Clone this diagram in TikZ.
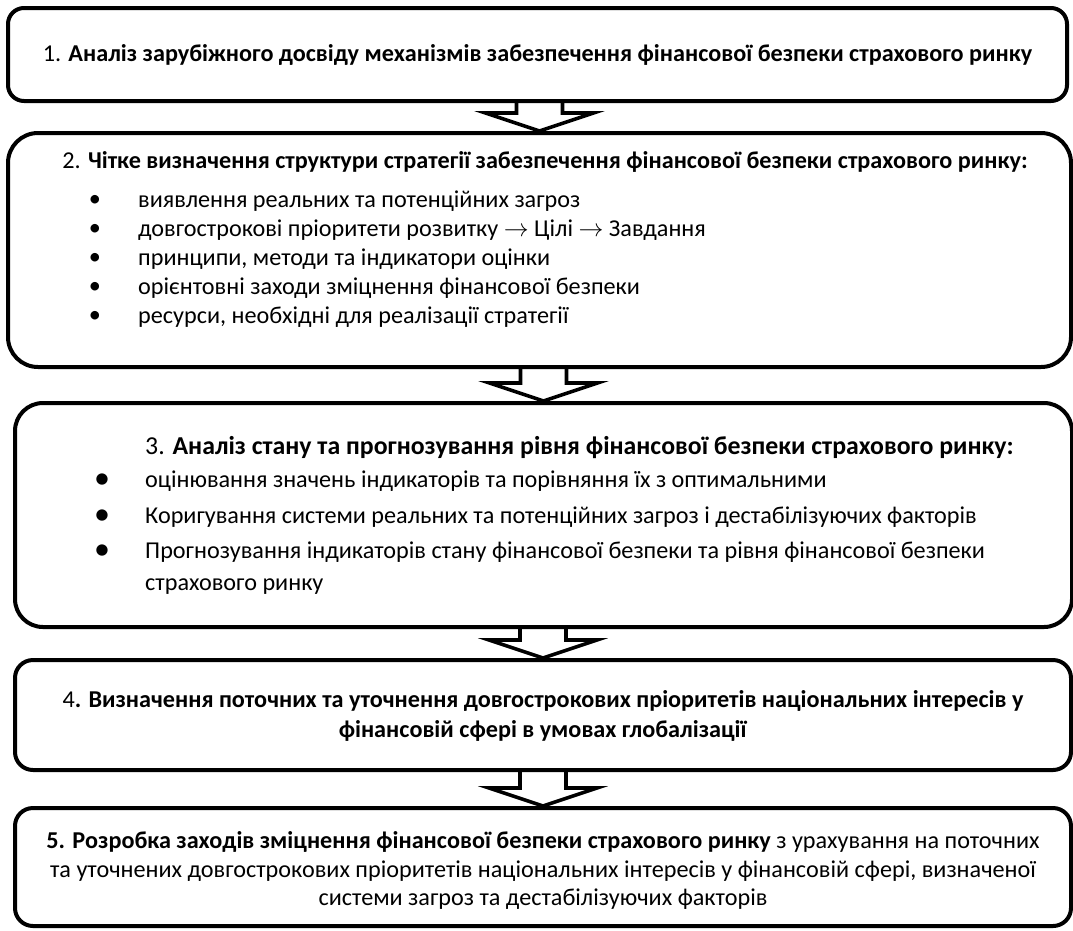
\documentclass[tikz,border=0pt]{standalone}
\usepackage{fontspec}
\setmainfont{Carlito}
\usetikzlibrary{calc,positioning}
\tikzset{
    stage-box/.style = {draw=black, line width=4pt, rectangle, rounded corners=#1, inner sep=0pt},
    stage-box/.default = 16pt,
    stage-text/.style = {inner sep=0pt, font=\fontsize{24.2}{29}\selectfont},
    item-text/.style = {stage-text, anchor=west},
    item-dot/.style = {inner sep=0pt, font=\fontsize{24.2}{29}\selectfont},
    big-dot/.style = {inner sep=0pt, font=\fontsize{32}{32}\selectfont},
    block-arrow/.style = {draw=black, line width=3.6pt, line join=miter},
}
% hollow arrow from the bottom of one box to the top of the next
\newcommand{\stagearrow}[2]{%
  \draw[block-arrow] ($(#1.south -| #2.north)+(-23,0)$) -- ($(#2.north)+(-23,-18)$)
    -- ($(#2.north)+(-54,-18)$) -- (#2.north) -- ($(#2.north)+(54,-18)$)
    -- ($(#2.north)+(23,-18)$) -- ($(#1.south -| #2.north)+(23,0)$);
}

\begin{document}
\begin{tikzpicture}[x=1pt,y=-1pt]
\useasboundingbox (0,0) rectangle (1073,930);

% boxes
\node[stage-box=16pt, minimum width=1059pt, minimum height=93pt] (box1) at (537.5,54.5) {};
\node[stage-box=30pt, minimum width=1063pt, minimum height=234pt] (box2) at (539.5,250) {};
\node[stage-box=28pt, minimum width=1057pt, minimum height=224pt] (box3) at (543.5,515) {};
\node[stage-box=18pt, minimum width=1056pt, minimum height=110pt] (box4) at (543,715) {};
\node[stage-box=18pt, minimum width=1056pt, minimum height=118pt] (box5) at (543,867) {};

% arrows
\stagearrow{box1}{box2}
\stagearrow{box2}{box3}
\stagearrow{box3}{box4}
\stagearrow{box4}{box5}

% stage 1
\node[stage-text] (t1) at (box1) {1. \textbf{Аналіз зарубіжного досвіду механізмів забезпечення фінансової безпеки страхового ринку}};

% stage 2
\node[stage-text] (t2) at (545,162) {2. \textbf{Чітке визначення структури стратегії забезпечення фінансової безпеки страхового ринку:}};
\foreach \txt [count=\k] in {{виявлення реальних та потенційних загроз},
    {довгострокові пріоритети розвитку $\rightarrow$ Цілі $\rightarrow$ Завдання},
    {принципи, методи та індикатори оцінки},
    {орієнтовні заходи зміцнення фінансової безпеки},
    {ресурси, необхідні для реалізації стратегії}}{
  \node[item-dot] (d2-\k) at (95,172+29*\k) {•};
  \node[item-text] (i2-\k) at (138,172+29*\k) {\txt};
}

% stage 3
\node[stage-text, anchor=west, font=\fontsize{25.8}{30}\selectfont] (t3) at (145,448) {3. \textbf{Аналіз стану та прогнозування рівня фінансової безпеки страхового ринку:}};
\foreach \txt [count=\k] in {{оцінювання значень індикаторів та порівняння їх з оптимальними},
    {Коригування системи реальних та потенційних загроз і дестабілізуючих факторів},
    {Прогнозування індикаторів стану фінансової безпеки та рівня фінансової безпеки}}{
  \node[big-dot] (d3-\k) at (102,446+35.5*\k) {•};
  \node[item-text] (i3-\k) at (145,446+35.5*\k) {\txt};
}
\node[item-text] (i3-4) at (145,587) {страхового ринку};

% stage 4
\node[stage-text] (t4a) at (543,701) {4\textbf{. Визначення поточних та уточнення довгострокових пріоритетів національних інтересів у}};
\node[stage-text] (t4b) at (543,731) {\textbf{фінансовій сфері в умовах глобалізації}};

% stage 5
\node[stage-text] (t5a) at (543,842) {\textbf{5. Розробка заходів зміцнення фінансової безпеки страхового ринку} з урахування на поточних};
\node[stage-text] (t5b) at (543,871) {та уточнених довгострокових пріоритетів національних інтересів у фінансовій сфері, визначеної};
\node[stage-text] (t5c) at (543,899) {системи загроз та дестабілізуючих факторів};
\end{tikzpicture}
\end{document}
